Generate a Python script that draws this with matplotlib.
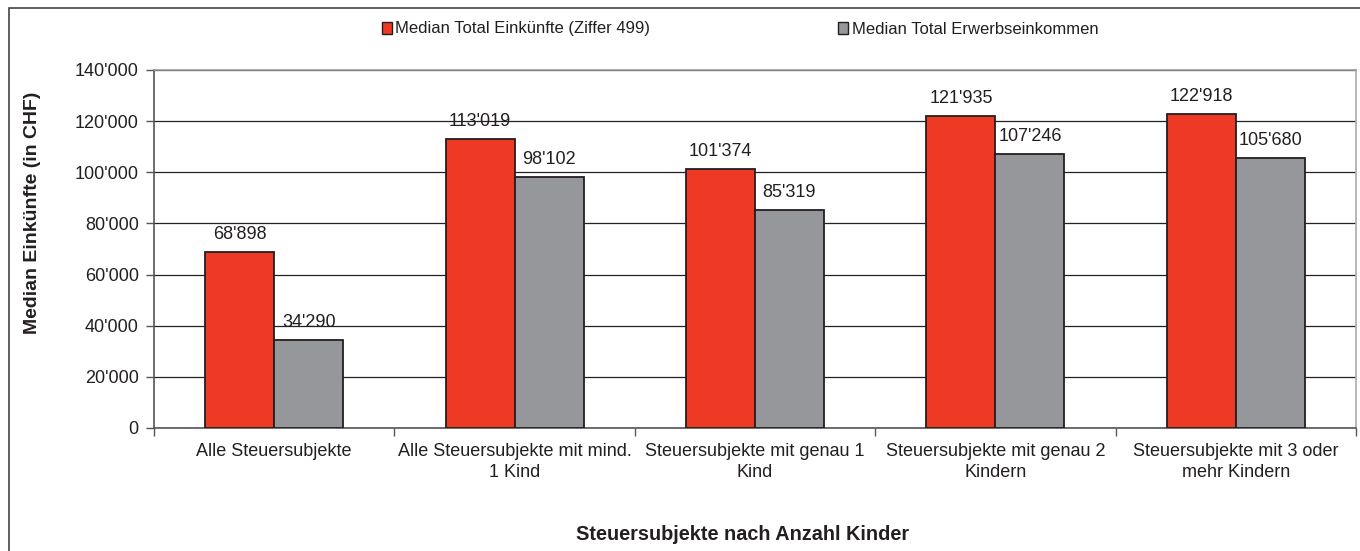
import matplotlib
matplotlib.use("Agg")
import matplotlib.pyplot as plt
import numpy as np
from matplotlib.patches import Rectangle, Patch
from matplotlib.ticker import FuncFormatter, FixedLocator

categories = ["Alle Steuersubjekte",
              "Alle Steuersubjekte mit mind.\n1 Kind",
              "Steuersubjekte mit genau 1\nKind",
              "Steuersubjekte mit genau 2\nKindern",
              "Steuersubjekte mit 3 oder\nmehr Kindern"]
einkuenfte = [68898, 113019, 101374, 121935, 122918]
erwerb = [34290, 98102, 85319, 107246, 105680]
series_names = ["Median Total Einkünfte (Ziffer 499)", "Median Total Erwerbseinkommen"]

plt.rcParams['font.family'] = ['Liberation Sans', 'DejaVu Sans']
txt = '#231F20'
red = '#EE3A24'
grey = '#96979B'

W, H = 1360, 551
fig = plt.figure(figsize=(W/100, H/100), dpi=100)
fig.patches.append(Rectangle((9/W, -0.1), 1.2, 1 - 8/H + 0.1, transform=fig.transFigure,
                             fill=False, edgecolor='#444444', linewidth=1.2))

ax = fig.add_axes([154/W, 1-428/H, (1356-154)/W, (428-70)/H])
x = np.arange(len(categories))
bw = 0.287
b1 = ax.bar(x - bw/2, einkuenfte, bw, color=red, edgecolor=txt, linewidth=1.3, zorder=3)
b2 = ax.bar(x + bw/2, erwerb, bw, color=grey, edgecolor=txt, linewidth=1.3, zorder=3)

fmt = lambda v: f"{int(v):,}".replace(",", "'")
for bars, vals in ((b1, einkuenfte), (b2, erwerb)):
    for r, v in zip(bars, vals):
        ax.annotate(fmt(v), (r.get_x() + r.get_width()/2, v), xytext=(0, 6.5),
                    textcoords='offset points', ha='center', va='bottom',
                    fontsize=13, color=txt, zorder=4)

ax.set_xlim(-0.5, len(categories) - 0.5)
ax.set_ylim(0, 140000)
ax.set_yticks(np.arange(0, 140001, 20000))
ax.yaxis.set_major_formatter(FuncFormatter(lambda v, p: fmt(v)))
ax.yaxis.grid(True, color='#222222', linewidth=0.9, zorder=0)
ax.set_axisbelow(True)

ax.xaxis.set_major_locator(FixedLocator(np.arange(-0.5, len(categories), 1.0)))
ax.xaxis.set_minor_locator(FixedLocator(x))
ax.set_xticklabels([])
ax.set_xticklabels(categories, minor=True, fontsize=13, color=txt, linespacing=1.3)
ax.tick_params(axis='x', which='major', length=6, width=1, color='#555555', direction='out')
ax.tick_params(axis='x', which='minor', length=0, pad=11)
ax.tick_params(axis='y', length=6, width=1, color='#555555', labelsize=13, labelcolor=txt, pad=5)

ax.spines['left'].set_color('#555555')
ax.spines['bottom'].set_color('#555555')
ax.spines['top'].set_color('#999999')
ax.spines['right'].set_color('#aaaaaa')
for s in ax.spines.values():
    s.set_linewidth(1.2)

fig.text(33/W, 1-213/H, "Median Einkünfte (in CHF)", rotation=90, ha='center', va='center',
         fontsize=14, fontweight='bold', color=txt)
fig.text(743/W, 1-535/H, "Steuersubjekte nach Anzahl Kinder", ha='center', va='center',
         fontsize=14.3, fontweight='bold', color=txt)

handles = [Patch(facecolor=red, edgecolor=txt, linewidth=1), Patch(facecolor=grey, edgecolor=txt, linewidth=1)]
fig.legend(handles, series_names, loc='center', bbox_to_anchor=(740/W, 1-29/H), ncol=2,
           frameon=False, fontsize=12, handlelength=0.6, handleheight=0.7, handletextpad=0.2,
           columnspacing=11.3, labelcolor=txt)

fig.savefig("out.png", dpi=100)
